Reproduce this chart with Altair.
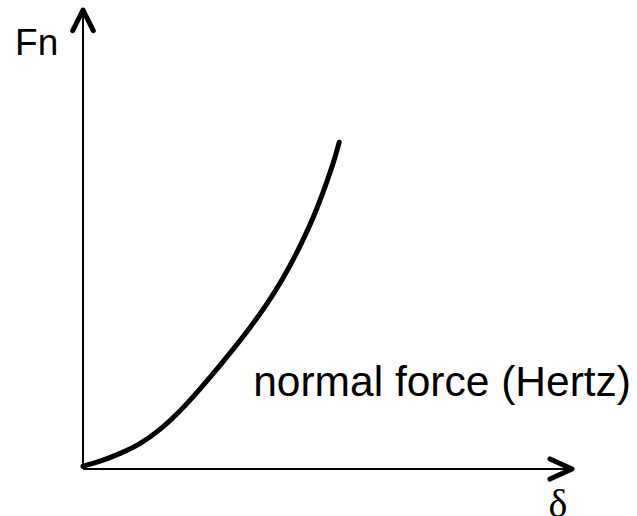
import altair as alt
import pandas as pd

# Hertzian normal force vs. indentation (arbitrary units, axes span 0..100)
delta = [0.0, 3.5, 7.6, 11.7, 15.8, 19.4, 21.9, 26.0, 30.1, 34.2, 37.6, 41.0, 44.4, 47.8, 50.2, 51.5, 52.4]
force = [0.6, 1.7, 3.4, 5.6, 8.7, 12.2, 15.0, 20.0, 25.3, 30.9, 36.0, 41.8, 48.6, 56.7, 63.6, 67.8, 71.2]

# arrowhead chevrons at the ends of the two axes
head_group = ["y", "y", "y", "x", "x", "x"]
head_x = [-2.1, 0.0, 2.1, 95.5, 100.0, 95.5]
head_y = [95.5, 100.0, 95.5, 2.2, 0.0, -2.2]
head_order = [0, 1, 2, 0, 1, 2]

# labels
label_text = ["Fn", "normal force (Hertz)"]
label_x = [-13.9, 34.8]
label_y = [90.1, 15.8]
label_size = [37, 42.5]
sym_text = ["δ"]
sym_x = [97.1]
sym_y = [-10.5]

W, H = 489, 459
xs = alt.Scale(domain=[0, 100], nice=False, zero=False)
ys = alt.Scale(domain=[0, 100], nice=False, zero=False)

curve_df = pd.DataFrame({"d": delta, "f": force})
heads_df = pd.DataFrame({"g": head_group, "x": head_x, "y": head_y, "o": head_order})
labels_df = pd.DataFrame({"t": label_text, "x": label_x, "y": label_y, "s": label_size})
sym_df = pd.DataFrame({"t": sym_text, "x": sym_x, "y": sym_y})
axes_df = pd.DataFrame({"x": [0, 0], "x2": [0, 100], "y": [0, 0], "y2": [100, 0]})

axis_lines = alt.Chart(axes_df).mark_rule(color="black", strokeWidth=2).encode(
    x=alt.X("x:Q", scale=xs, axis=None),
    x2="x2:Q",
    y=alt.Y("y:Q", scale=ys, axis=None),
    y2="y2:Q",
)

heads = alt.Chart(heads_df).mark_line(
    color="black", strokeWidth=5, strokeCap="round", strokeJoin="round", clip=False
).encode(
    x=alt.X("x:Q", scale=xs, axis=None),
    y=alt.Y("y:Q", scale=ys, axis=None),
    detail="g:N",
    order="o:Q",
)

curve = alt.Chart(curve_df).mark_line(
    color="black", strokeWidth=5, strokeCap="round", interpolate="monotone"
).encode(
    x=alt.X("d:Q", scale=xs, axis=None),
    y=alt.Y("f:Q", scale=ys, axis=None),
)

labels = alt.Chart(labels_df).mark_text(
    align="left", baseline="alphabetic", font="Liberation Sans", color="black", clip=False
).encode(
    x=alt.X("x:Q", scale=xs, axis=None),
    y=alt.Y("y:Q", scale=ys, axis=None),
    text="t:N",
    size=alt.Size("s:Q", scale=None, legend=None),
)

sym = alt.Chart(sym_df).mark_text(
    align="center", baseline="alphabetic", font="Liberation Serif", fontSize=40,
    color="black", clip=False
).encode(
    x=alt.X("x:Q", scale=xs, axis=None),
    y=alt.Y("y:Q", scale=ys, axis=None),
    text="t:N",
)

chart = (
    alt.layer(axis_lines, heads, curve, labels, sym)
    .properties(
        width=W,
        height=H,
        padding={"left": 83, "top": 10, "right": 65, "bottom": 47},
        autosize=alt.AutoSizeParams(type="none"),
        background="white",
    )
    .configure_view(stroke=None)
)

chart.save("out.html", embed_options={"renderer": "svg", "actions": False})
